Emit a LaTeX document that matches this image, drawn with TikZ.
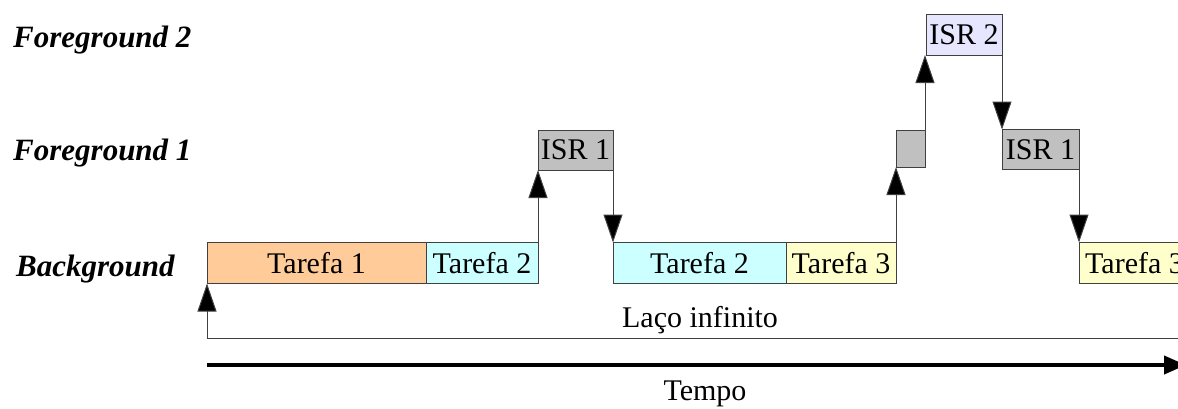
\documentclass[tikz,border=0pt]{standalone}
\usepackage{fontspec}
\setmainfont{Liberation Serif}
\usetikzlibrary{arrows.meta}
\definecolor{torange}{HTML}{FFCC99}
\definecolor{tcyan}{HTML}{CCFFFF}
\definecolor{tyellow}{HTML}{FFFFCC}
\definecolor{tgray}{HTML}{C0C0C0}
\definecolor{tlav}{HTML}{E6E6FF}
\definecolor{lineg}{HTML}{404040}
\tikzset{
  box/.style={draw=lineg, line width=1pt, inner sep=0pt, outer sep=0pt, font=\fontsize{30}{35}\selectfont},
  lbl/.style={inner sep=0pt, anchor=base west, font=\fontsize{31}{36}\selectfont\bfseries\itshape},
  txt/.style={inner sep=0pt, anchor=base, font=\fontsize{30}{35}\selectfont},
  conn/.style={draw=lineg, line width=1pt, -{Triangle[length=28pt,width=19pt,fill=black]}},
}
\begin{document}
\begin{tikzpicture}[x=1pt,y=-1pt]
\useasboundingbox (0,0) rectangle (1178,408);
\clip (0,0) rectangle (1178,408);
% labels
\node[lbl] (fg2) at (13,47) {Foreground 2};
\node[lbl] (fg1) at (13,160) {Foreground 1};
\node[lbl] (bg) at (16,276) {Background};
% background tasks
\node[box, fill=torange, minimum width=219pt, minimum height=41pt] (t1) at (316.5,263) {Tarefa 1};
\node[box, fill=tcyan, minimum width=112pt, minimum height=41pt] (t2a) at (482,263) {Tarefa 2};
\node[box, fill=tcyan, minimum width=173pt, minimum height=41pt] (t2b) at (699.5,263) {Tarefa 2};
\node[box, fill=tyellow, minimum width=110pt, minimum height=41pt] (t3a) at (841,263) {Tarefa 3};
\node[box, fill=tyellow, minimum width=111pt, minimum height=41pt] (t3b) at (1134.5,263) {Tarefa 3};
% foreground
\node[box, fill=tgray, minimum width=75pt, minimum height=40pt] (isr1a) at (575.5,150) {ISR 1};
\node[box, fill=tgray, minimum width=29pt, minimum height=37pt] (small) at (910.5,148.5) {};
\node[box, fill=tlav, minimum width=76pt, minimum height=41pt] (isr2) at (964,34.5) {ISR 2};
\node[box, fill=tgray, minimum width=77pt, minimum height=40pt] (isr1b) at (1040.5,149.5) {ISR 1};
% connectors
\draw[conn] (t2a.north east) -- (isr1a.south west);
\draw[conn] (isr1a.south east) -- (t2b.north west);
\draw[conn] (t3a.north east) -- (small.south west);
\draw[conn] (small.north east) -- (small.north east |- isr2.south);
\draw[conn] (isr2.south east) -- (isr1b.north west);
\draw[conn] (isr1b.south east) -- (t3b.north west);
% infinite loop
\coordinate (lend) at (1190,338);
\draw[conn] (lend) -| (t1.south west);
\node[txt] (laco) at (700,327) {Laço infinito};
% time axis
\coordinate (tstart) at (207,365);
\coordinate (tend) at (1186,365);
\draw[line width=4pt, -{Triangle[length=22pt,width=18pt]}] (tstart) -- (tend);
\node[txt] (tempo) at (705,400) {Tempo};
\end{tikzpicture}
\end{document}
